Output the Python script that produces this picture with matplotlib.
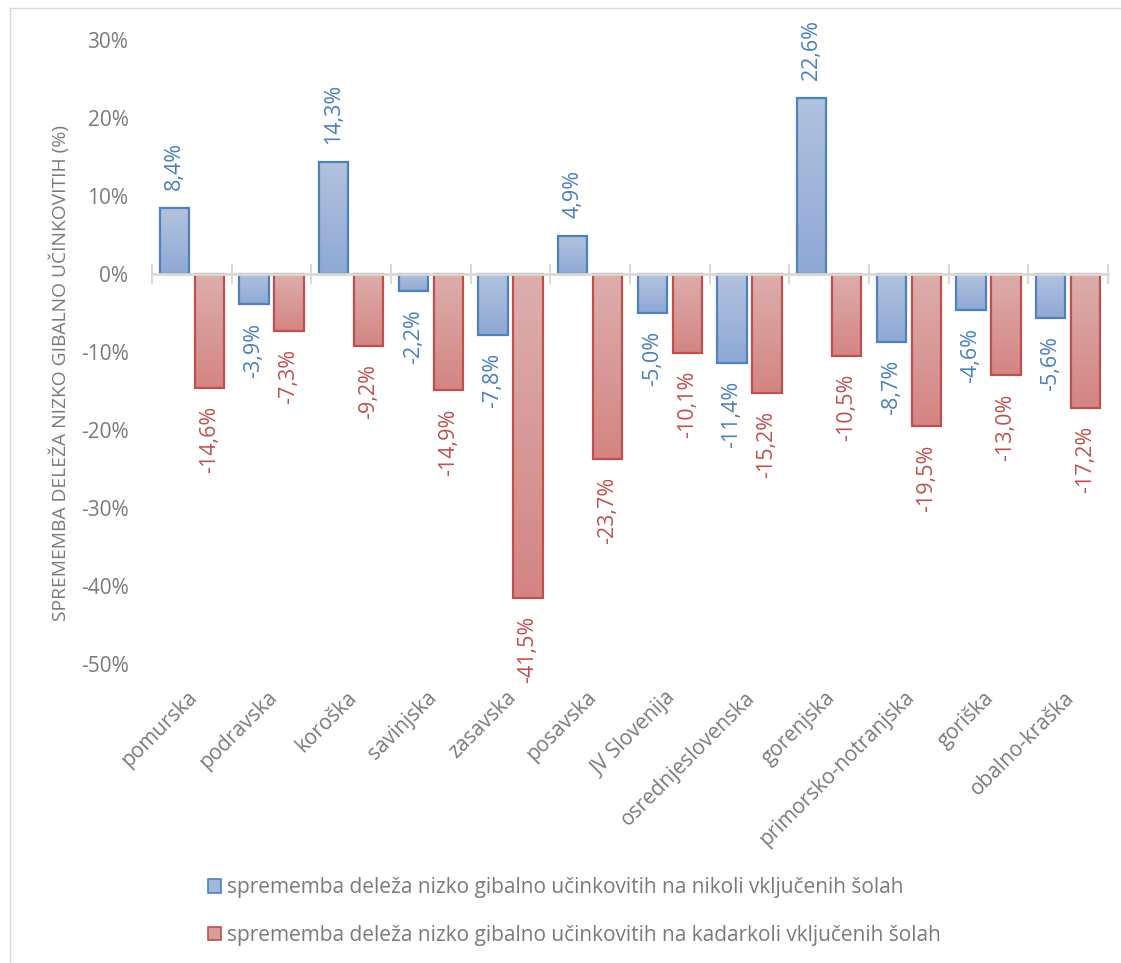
import numpy as np
import matplotlib
matplotlib.use("Agg")
import matplotlib.pyplot as plt
from matplotlib.patches import Patch
from matplotlib.lines import Line2D
from matplotlib.colors import to_rgb

categories = ["pomurska", "podravska", "koroška", "savinjska", "zasavska", "posavska",
              "JV Slovenija", "osrednjeslovenska", "gorenjska", "primorsko-notranjska",
              "goriška", "obalno-kraška"]
nikoli = [8.4, -3.9, 14.3, -2.2, -7.8, 4.9, -5.0, -11.4, 22.6, -8.7, -4.6, -5.6]
kadarkoli = [-14.6, -7.3, -9.2, -14.9, -41.5, -23.7, -10.1, -15.2, -10.5, -19.5, -13.0, -17.2]
series_names = ["sprememba deleža nizko gibalno učinkovitih na nikoli vključenih šolah",
                "sprememba deleža nizko gibalno učinkovitih na kadarkoli vključenih šolah"]
y_ticks = [-50, -40, -30, -20, -10, 0, 10, 20, 30]
y_label = "SPREMEMBA DELEŽA NIZKO GIBALNO UČINKOVITIH (%)"

plt.rcParams['font.family'] = ['Open Sans', 'DejaVu Sans']
TXT = '#7a7a7a'
BLUE_EDGE = '#4f81bd'
RED_EDGE = '#c0504d'
BLUE_LBL = '#4a7ebb'
RED_LBL = '#c0504d'
blue_grad = ('#b1c2de', '#8fa9d5')
red_grad = ('#dcaeac', '#d48583')

W, H = 1121, 963
fig = plt.figure(figsize=(W / 100, H / 100), dpi=100)
ax = fig.add_axes([152 / W, 1 - 664 / H, (1108 - 152) / W, (664 - 40) / H])

x = np.arange(len(categories))
bw = 0.365
off = 0.22


def gradient_bars(xpos, vals, grad, edge):
    bars = ax.bar(xpos, vals, bw, facecolor='none', edgecolor=edge, linewidth=1.6, zorder=3)
    c0 = np.array(to_rgb(grad[0]))
    c1 = np.array(to_rgb(grad[1]))
    t = np.linspace(0, 1, 64)[:, None]
    img = (c0 * (1 - t) + c1 * t)[:, None, :]
    for b in bars:
        bb = b.get_bbox()
        im = ax.imshow(img, extent=(bb.xmin, bb.xmax, bb.ymin, bb.ymax), origin='upper',
                       aspect='auto', zorder=2, interpolation='bilinear')
        im.set_clip_path(b)
    return bars


b1 = gradient_bars(x - off, nikoli, blue_grad, BLUE_EDGE)
b2 = gradient_bars(x + off, kadarkoli, red_grad, RED_EDGE)


def fmt(v):
    return f"{v:.1f}".replace('.', ',') + '%'


for bars, vals, col in ((b1, nikoli, BLUE_LBL), (b2, kadarkoli, RED_LBL)):
    for b, v in zip(bars, vals):
        cx = b.get_x() + b.get_width() / 2
        ax.annotate(fmt(v), xy=(cx, v), xytext=(0, 13 if v >= 0 else -13),
                    textcoords='offset points', rotation=90, ha='center',
                    va='bottom' if v >= 0 else 'top', color=col, fontsize=15.5, zorder=5)

ax.set_xlim(-0.5, len(categories) - 0.5)
ax.set_ylim(-50, 30)

# axes styling
for s in ('top', 'right', 'left'):
    ax.spines[s].set_visible(False)
ax.spines['bottom'].set_position(('data', 0))
ax.spines['bottom'].set_color('#d9d9d9')
ax.spines['bottom'].set_linewidth(2)
ax.spines['bottom'].set_zorder(4)
ax.set_xticks(np.arange(-0.5, len(categories)), labels=[])
ax.tick_params(axis='x', direction='inout', length=14, width=1.5, color='#d9d9d9')
ax.set_yticks(y_ticks, labels=[f"{t}%" for t in y_ticks])
ax.tick_params(axis='y', length=0, pad=17, labelsize=15, labelcolor=TXT)

for i, c in enumerate(categories):
    ax.annotate(c, xy=(i, 0), xycoords=ax.get_xaxis_transform(), xytext=(2, -22),
                textcoords='offset points', rotation=45, ha='right', va='center',
                rotation_mode='anchor', color=TXT, fontsize=15)

fig.text(60 / W, 1 - 373 / H, y_label, rotation=90, ha='center', va='center',
         color=TXT, fontsize=13.9)

handles = [Patch(facecolor='#a3b7da', edgecolor=BLUE_EDGE, linewidth=1.2),
           Patch(facecolor='#d89c9a', edgecolor=RED_EDGE, linewidth=1.2)]
leg = fig.legend(handles, series_names, loc='center left', bbox_to_anchor=(208 / W, 1 - 911.5 / H),
                 frameon=False, fontsize=15, labelcolor=TXT, handlelength=0.62, handleheight=0.62,
                 handletextpad=0.28, labelspacing=1.26, borderpad=0, borderaxespad=0)

# outer chart border (left and top)
fig.add_artist(Line2D([10 / W, 10 / W], [0, 1 - 8 / H], transform=fig.transFigure, color='#d9d9d9', lw=1))
fig.add_artist(Line2D([10 / W, 1], [1 - 8 / H, 1 - 8 / H], transform=fig.transFigure, color='#d9d9d9', lw=1))

fig.savefig('out.png', dpi=100)
